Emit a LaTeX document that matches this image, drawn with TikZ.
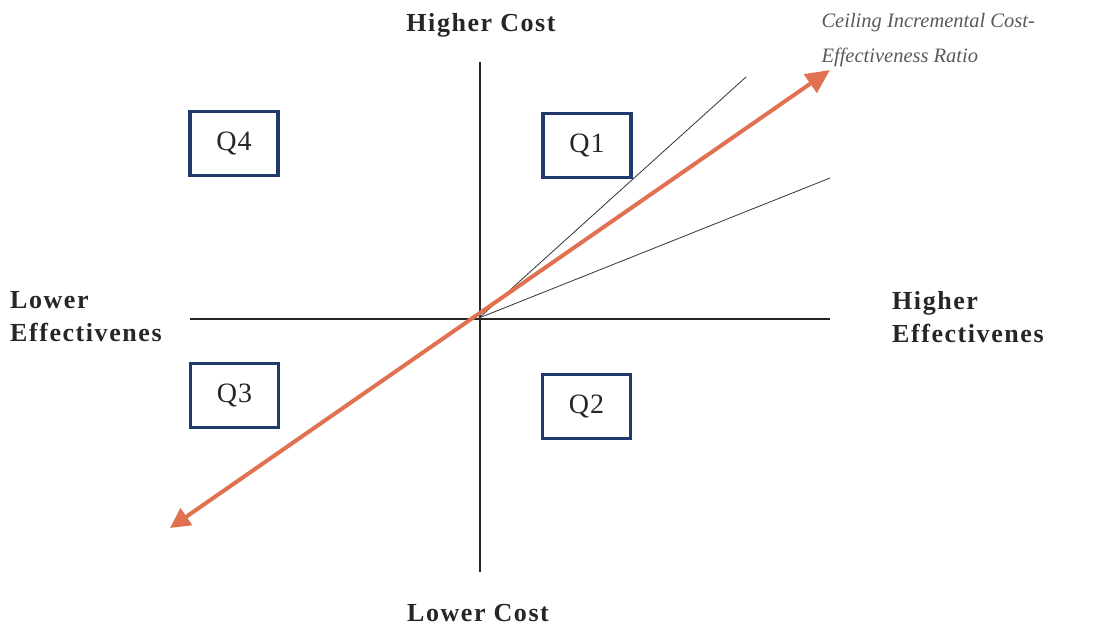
\documentclass[tikz,border=0pt]{standalone}
\usepackage{fontspec}
\setmainfont{Liberation Serif}
\usetikzlibrary{arrows.meta}
\definecolor{navy}{HTML}{1F3A6B}
\definecolor{salmon}{HTML}{E07252}
\begin{document}
\begin{tikzpicture}[x=1pt,y=-1pt,
  qbox/.style={draw=navy,line width=3.5pt,minimum width=88pt,minimum height=64pt,font=\fontsize{28}{30}\addfontfeatures{LetterSpace=4}\selectfont,text=black!85},
  axlabel/.style={font=\fontsize{26}{33}\bfseries\addfontfeatures{LetterSpace=6}\selectfont,text=black!85,align=left,inner sep=1pt},
  axis/.style={line width=2pt,black!85},
  thin/.style={line width=0.8pt,black!80}]
\useasboundingbox (0,0) rectangle (1114,630);
\coordinate (O) at (479,318);
\coordinate (vt) at (480,62);
\coordinate (vb) at (480,572);
\coordinate (hl) at (190,319);
\coordinate (hr) at (830,319);
\draw[axis] (vt) -- (vb);
\draw[axis] (hl) -- (hr);
\coordinate (t1) at (746,77);
\coordinate (t2) at (830,178);
\draw[thin] (O) -- (t1);
\draw[thin] (O) -- (t2);
\coordinate (aS) at (170,528);
\coordinate (aE) at (830,70);
\draw[salmon,line width=4pt,{Triangle[length=20pt,width=20pt]}-{Triangle[length=24pt,width=22pt]}] (aS) -- (aE);
\node[qbox] (q4) at (234,143.5) {Q4};
\node[qbox] (q1) at (587,145.5) {Q1};
\node[qbox] (q3) at (234.5,395.5) {Q3};
\node[qbox] (q2) at (586.5,406.5) {Q2};
\node[axlabel,anchor=center] (hc) at (481,25) {Higher Cost};
\node[axlabel,anchor=center] (lc) at (478,613) {Lower Cost};
\node[axlabel,anchor=west] (le) at (9,317) {Lower\\Effectivenes};
\node[axlabel,anchor=west] (he) at (891,317) {Higher\\Effectivenes};
\node[anchor=west,align=left,font=\fontsize{20.5}{35}\itshape\selectfont,text=black!65] (cl) at (818,40) {Ceiling Incremental Cost-\\Effectiveness Ratio};
\end{tikzpicture}
\end{document}
